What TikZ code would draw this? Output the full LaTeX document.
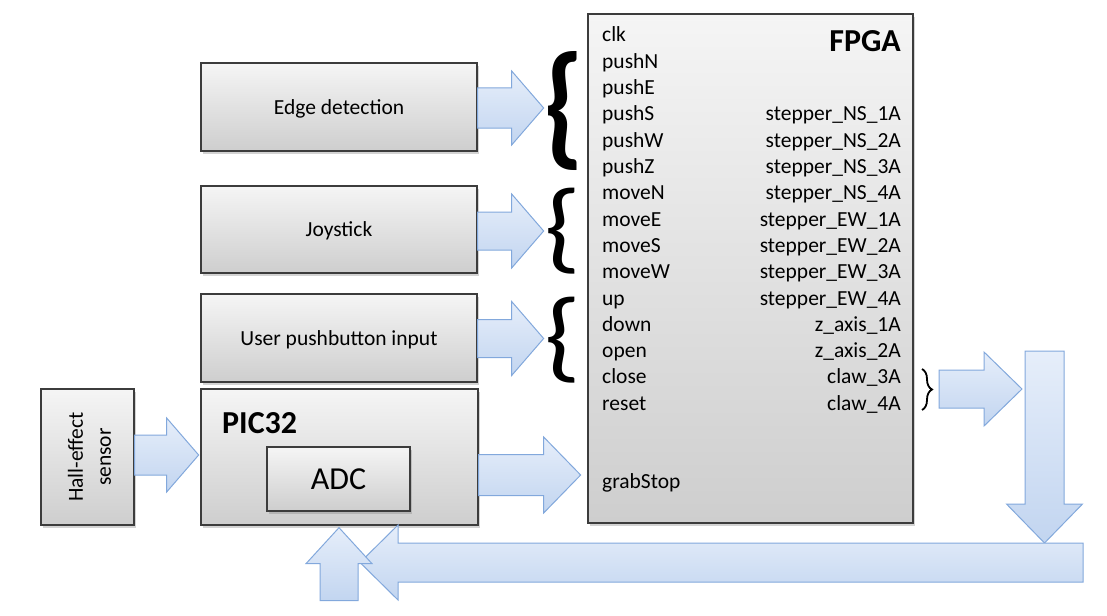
\documentclass[tikz,border=0pt]{standalone}
\usepackage{fontspec}
\setmainfont{Carlito}
\usetikzlibrary{shadows,decorations.pathreplacing,calc}
\definecolor{boxtop}{RGB}{245,245,245}
\definecolor{boxbot}{RGB}{206,206,206}
\definecolor{boxline}{RGB}{60,60,60}
\definecolor{arrtop}{RGB}{230,238,250}
\definecolor{arrbot}{RGB}{194,213,240}
\definecolor{arrline}{RGB}{130,168,220}
\tikzset{
 blk/.style={draw=boxline, line width=1.3pt, top color=boxtop, bottom color=boxbot, inner sep=0pt,
   drop shadow={shadow xshift=2pt, shadow yshift=-3pt, opacity=0.35}},
 lbl/.style={font=\fontsize{21.5}{26}\selectfont, inner sep=0pt},
 big/.style={font=\fontsize{32}{38}\selectfont, inner sep=0pt},
 bigb/.style={font=\fontsize{32}{38}\selectfont\bfseries, inner sep=0pt},
 barrow/.style={draw=arrline, line width=1pt, top color=arrtop, bottom color=arrbot, line join=miter},
 bracenode/.style={inner sep=0pt, font=\bfseries},
 bracenodereg/.style={inner sep=0pt},
 bracesmall/.style={decorate, decoration={brace, amplitude=10pt}, line width=1.8pt},
}
\begin{document}
\begin{tikzpicture}[x=1pt,y=-1pt]
\useasboundingbox (0,0) rectangle (1107,615);

% blocks
\node[blk, minimum width=276pt, minimum height=88pt, lbl, text depth=0pt] (ed) at (339,107) {Edge detection};
\node[blk, minimum width=276pt, minimum height=87pt, lbl, text depth=0pt] (joy) at (339,229.5) {Joystick};
\node[blk, minimum width=276pt, minimum height=88pt, lbl, text depth=0pt] (usr) at (339,338) {User pushbutton input};
\node[blk, minimum width=277pt, minimum height=136pt] (pic) at (339.5,457) {};
\node[bigb, anchor=base west] (pict) at (222,433) {PIC32};
\node[blk, minimum width=143pt, minimum height=64pt, big, text depth=0pt] (adc) at (338.5,479) {ADC};
\node[blk, minimum width=93pt, minimum height=136pt] (hall) at (87.5,457) {};
\node[lbl, font=\fontsize{21.5}{28}\selectfont, rotate=90, align=center] (hallt) at ($(hall.center)+(2,0)$) {Hall-effect\\sensor};
\node[blk, minimum width=325pt, minimum height=509pt] (fpga) at (750.5,268.5) {};
\node[bigb, anchor=base east] (fpgat) at (901,52) {FPGA};

% FPGA pins
\foreach \t [count=\i] in {clk,pushN,pushE,pushS,pushW,pushZ,moveN,moveE,moveS,moveW,up,down,open,close,reset}
  \node[lbl, anchor=base west] (in\i) at (602,{42+26.3*(\i-1)}) {\t};
\node[lbl, anchor=base west] (in16) at (602,488) {grabStop};
\foreach \t [count=\i from 4] in {stepper\_NS\_1A,stepper\_NS\_2A,stepper\_NS\_3A,stepper\_NS\_4A,stepper\_EW\_1A,stepper\_EW\_2A,stepper\_EW\_3A,stepper\_EW\_4A,z\_axis\_1A,z\_axis\_2A,claw\_3A,claw\_4A}
  \node[lbl, anchor=base east] (out\i) at (901,{42+26.3*(\i-1)}) {\t};

% braces
\node[bracenode, anchor=east] (br1) at (585,110.5) {\resizebox*{41pt}{119pt}{\{}};
\node[bracenodereg, anchor=east] (br2) at (582,231.5) {\resizebox*{37pt}{86pt}{\{}};
\node[bracenodereg, anchor=east] (br3) at (582,340.5) {\resizebox*{37pt}{86pt}{\{}};
\draw[bracesmall] (922,369) -- (922,410);

% right-pointing block arrows
\draw[barrow, shift={($(ed.east)+(0,1)$)}] (0,-20) -- (34,-20) -- (34,-37) -- (66,0) -- (34,37) -- (34,20) -- (0,20) -- cycle;
\draw[barrow, shift={($(joy.east)+(0,1.5)$)}] (0,-19) -- (34,-19) -- (34,-37) -- (66,0) -- (34,37) -- (34,19) -- (0,19) -- cycle;
\draw[barrow, shift={($(usr.east)+(0,0.5)$)}] (0,-19) -- (34,-19) -- (34,-37) -- (66,0) -- (34,37) -- (34,19) -- (0,19) -- cycle;
\draw[barrow, shift={($(hall.east)+(0,-2)$)}] (0,-20) -- (32,-20) -- (32,-37) -- (64,0) -- (32,37) -- (32,20) -- (0,20) -- cycle;
\draw[barrow, shift={($(pic.east)+(0,18)$)}] (0,-20.5) -- (65,-20.5) -- (65,-38) -- (102,0) -- (65,38) -- (65,20.5) -- (0,20.5) -- cycle;
\coordinate (clawout) at (939,389);
\draw[barrow, shift={(clawout)}] (0,-19) -- (45,-19) -- (45,-37) -- (83,0) -- (45,37) -- (45,19) -- (0,19) -- cycle;

% feedback loop
\coordinate (fbtop) at (1044.5,351);
\coordinate (fbtip) at (360,562.5);
\draw[barrow, shift={(fbtop)}] (-19.5,0) -- (19.5,0) -- (19.5,153) -- (38,153) -- (0,192) -- (-38,153) -- (-19.5,153) -- cycle;
\draw[barrow] (1083,543) -- (1083,582) -- (398,582) -- (398,600) -- (fbtip) -- (398,525) -- (398,543) -- cycle;
\coordinate (uptip) at ($(pic.south)+(-0.5,2)$);
\draw[barrow, shift={(uptip)}] (-19,73) -- (19,73) -- (19,36) -- (33,36) -- (0,0) -- (-33,36) -- (-19,36) -- cycle;
\end{tikzpicture}
\end{document}
